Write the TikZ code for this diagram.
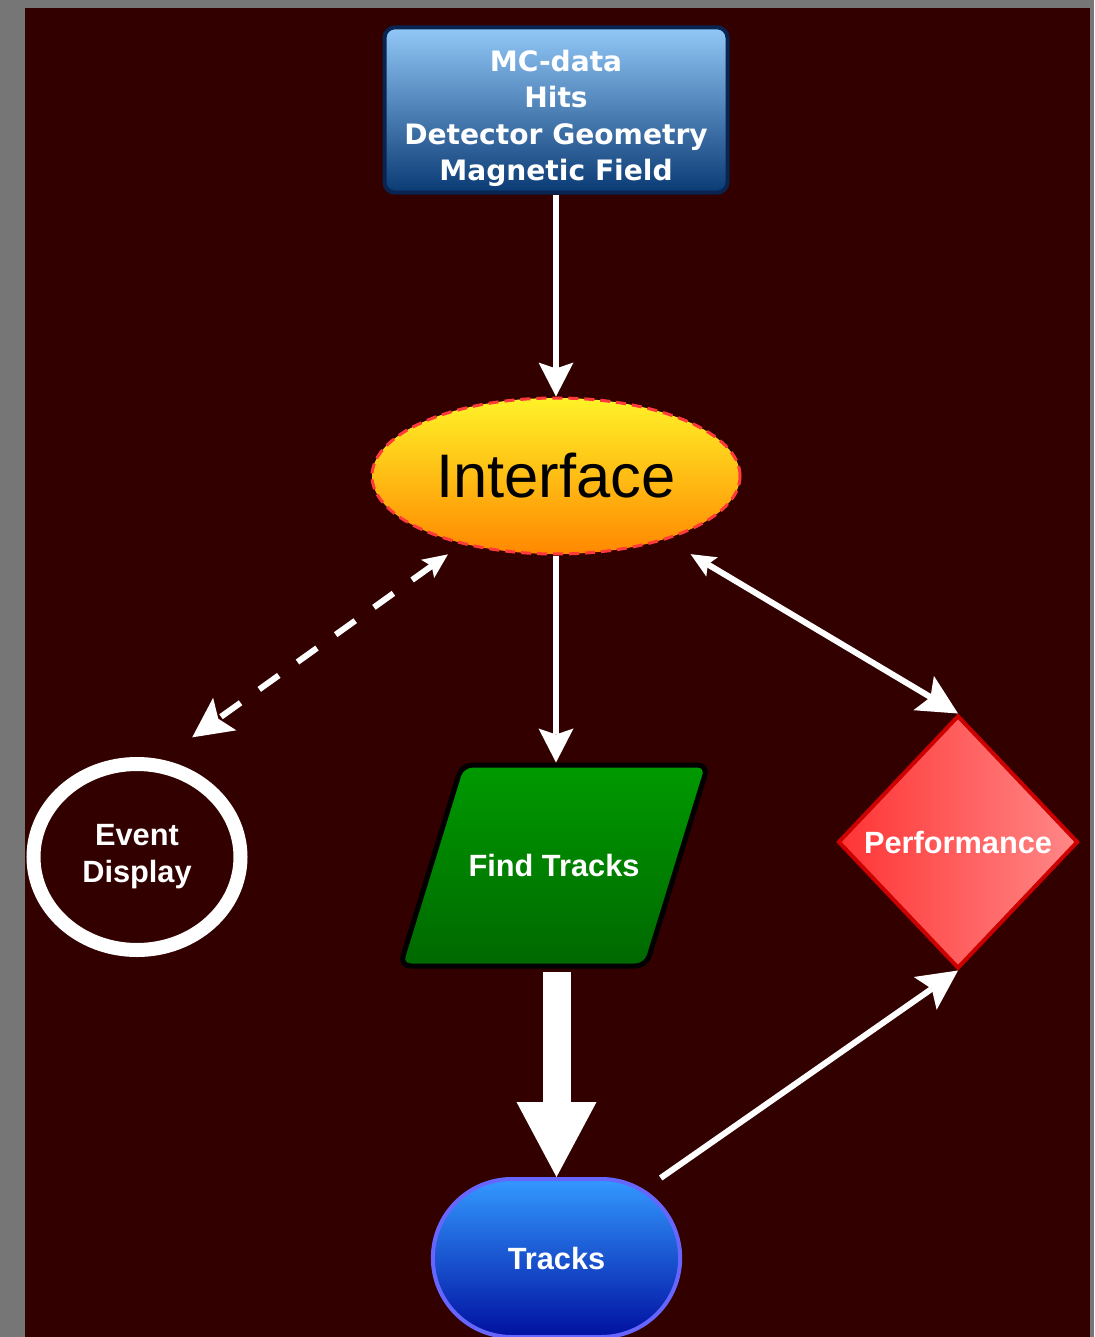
\documentclass[tikz,border=0pt]{standalone}
\usepackage{fontspec}
\setmainfont{Liberation Sans}
\newfontfamily\verdana{DejaVu Sans}
\usetikzlibrary{shapes.geometric,shapes.misc,arrows.meta}

\definecolor{bgdark}{RGB}{51,0,0}
\definecolor{frame}{RGB}{118,118,118}
\definecolor{datatop}{RGB}{146,200,248}
\definecolor{databot}{RGB}{10,58,116}
\definecolor{dataline}{RGB}{8,36,80}
\definecolor{ifacetop}{RGB}{255,242,40}
\definecolor{ifacebot}{RGB}{255,136,0}
\definecolor{ifaceline}{RGB}{255,58,58}
\definecolor{findtop}{RGB}{0,154,0}
\definecolor{findbot}{RGB}{0,104,0}
\definecolor{perfleft}{RGB}{255,52,52}
\definecolor{perfright}{RGB}{255,136,136}
\definecolor{perfline}{RGB}{204,0,0}
\definecolor{trtop}{RGB}{51,153,255}
\definecolor{trbot}{RGB}{0,16,160}
\definecolor{trline}{RGB}{102,102,255}

\begin{document}
\begin{tikzpicture}[
  txt/.style={font=\fontsize{17.5}{21}\selectfont\bfseries, text=white, align=center},
  databox/.style={draw=dataline, line width=0.08cm, rounded corners=6pt,
                  top color=datatop, bottom color=databot, text=white, align=center,
                  minimum width=6.86cm, minimum height=3.2cm,
                  font=\verdana\fontsize{16}{20.8}\selectfont\bfseries},
  ifacebox/.style={ellipse, draw=ifaceline, line width=0.06cm, dash pattern=on 0.2cm off 0.12cm,
                   top color=ifacetop, bottom color=ifacebot, inner sep=0pt,
                   minimum width=7.36cm, minimum height=3.12cm, font=\fontsize{35}{40}\selectfont},
  findbox/.style={trapezium, trapezium left angle=72.9, trapezium right angle=107.1,
                  trapezium stretches body=true, draw=black, line width=0.1cm, rounded corners=6pt,
                  top color=findtop, bottom color=findbot, inner xsep=0pt, inner ysep=1.785cm,
                  text height=0.45cm, text depth=0cm, minimum width=6.16cm, txt},
  evbox/.style={ellipse, draw=white, line width=0.28cm, inner sep=0pt,
                minimum width=4.14cm, minimum height=3.72cm, txt},
  perfbox/.style={diamond, draw=perfline, line width=0.08cm, left color=perfleft, right color=perfright,
                  inner sep=0pt, minimum width=4.8cm, minimum height=5.06cm, txt},
  trackbox/.style={rounded rectangle, draw=trline, line width=0.08cm, top color=trtop, bottom color=trbot,
                   minimum width=5.18cm, minimum height=3.16cm, txt},
  arrow/.style={-{Stealth[length=0.68cm, width=0.7cm, inset=0.12cm, line width=0pt]}, white, line width=0.12cm},
  bigarrow/.style={-{Stealth[length=0.8cm, width=0.8cm, inset=0.16cm, line width=0pt]}, white, line width=0.12cm},
  dblarrow/.style={{Stealth[length=0.5cm, width=0.45cm, inset=0.1cm, line width=0pt]}-{Stealth[length=0.8cm, width=0.8cm, inset=0.16cm, line width=0pt]},
                   white, line width=0.12cm},
  dasharrow/.style={dblarrow, dash pattern=on 0.48cm off 0.46cm},
  fatarrow/.style={-{Triangle[length=1.5cm, width=1.6cm, line width=0pt]}, white, line width=0.56cm},
]

% Background
\fill[frame] (0,0) rectangle (21.88,-26.74);
\fill[bgdark] (0.5,-0.16) rectangle (21.8,-26.74);
\useasboundingbox (0,0) rectangle (21.88,-26.74);

% Nodes
\node[databox] (data) at (11.12,-2.2) {\rule{0pt}{0.76cm}MC-data\\Hits\\Detector Geometry\\Magnetic Field};
\node[ifacebox] (iface) at (11.12,-9.52) {Interface};
\node[findbox] (ft) at (11.08,-17.31) {Find Tracks};
\node[evbox] (ev) at (2.74,-17.14) {Event\\Display};
\node[perfbox] (perf) at (19.16,-16.84) {Performance};
\node[trackbox] (tr) at (11.13,-25.16) {Tracks};

% Connectors
\draw[arrow] (data.south) -- (iface.north);
\draw[arrow] (iface.south) -- (iface.south |- ft.north);
\draw[fatarrow, shorten <=2pt] (tr.north |- ft.south) -- (tr.north);
\draw[dasharrow, shorten <=0.34cm, shorten >=0.76cm] (iface.216) -- (ev.76);
\draw[dblarrow, shorten <=0.56cm] (iface.-30) -- (perf.north);
\draw[bigarrow, shorten <=0.4cm] (tr.38) -- (perf.south);

\end{tikzpicture}
\end{document}
